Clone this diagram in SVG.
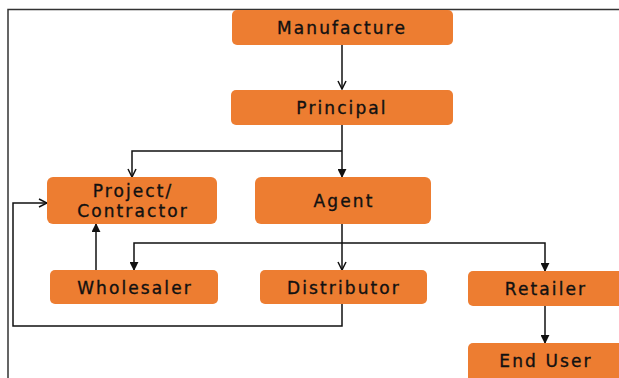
<svg xmlns="http://www.w3.org/2000/svg" width="619" height="378" viewBox="0 0 619 378">
<style>
.box{fill:#ED7D31;}
.lbl{font-family:"DejaVu Sans","Open Sans",sans-serif;font-size:17px;fill:#111;text-anchor:middle;letter-spacing:2.1px;stroke:#111;stroke-width:0.35px;}
.ln{fill:none;stroke:#111;stroke-width:1.5;}
.frame{fill:none;stroke:#333;stroke-width:1.5;}
</style>
<defs>
<marker id="open" viewBox="0 0 10 10" refX="9" refY="5" markerWidth="10" markerHeight="10" markerUnits="userSpaceOnUse" orient="auto">
<path d="M1,1 L9,5 L1,9" fill="none" stroke="#111" stroke-width="1.5"/>
</marker>
<marker id="fill" viewBox="0 0 10 10" refX="9" refY="5" markerWidth="9" markerHeight="9" markerUnits="userSpaceOnUse" orient="auto">
<path d="M0,0 L10,5 L0,10 Z" fill="#111"/>
</marker>
</defs>
<rect width="619" height="378" fill="#fff"/>
<path class="frame" d="M8,378 V9.5 H619"/>
<g id="connectors">
<path class="ln" d="M342,45 V89" marker-end="url(#open)"/>
<path class="ln" d="M342,125 V177" marker-end="url(#fill)"/>
<path class="ln" d="M342,151 H132 V177" marker-end="url(#open)"/>
<path class="ln" d="M342,224 V270" marker-end="url(#open)"/>
<path class="ln" d="M342,243 H134 V270" marker-end="url(#fill)"/>
<path class="ln" d="M342,243 H545 V271" marker-end="url(#fill)"/>
<path class="ln" d="M96,270 V224" marker-end="url(#fill)"/>
<path class="ln" d="M342,304 V326 H13 V203 H47" marker-end="url(#open)"/>
<path class="ln" d="M545,306 V343" marker-end="url(#fill)"/>
</g>
<g id="manufacture"><rect class="box" x="232" y="10" width="221" height="35" rx="5"/><text class="lbl" x="342" y="33.5">Manufacture</text></g>
<g id="principal"><rect class="box" x="231" y="90" width="222" height="35" rx="5"/><text class="lbl" x="342" y="113.5">Principal</text></g>
<g id="project"><rect class="box" x="47" y="177" width="170" height="47" rx="6"/><text class="lbl" x="133" y="196.5">Project/</text><text class="lbl" x="133" y="216.5">Contractor</text></g>
<g id="agent"><rect class="box" x="255" y="177" width="176" height="47" rx="6"/><text class="lbl" x="344" y="207">Agent</text></g>
<g id="wholesaler"><rect class="box" x="50" y="270" width="168" height="34" rx="5"/><text class="lbl" x="135" y="293.5">Wholesaler</text></g>
<g id="distributor"><rect class="box" x="260" y="270" width="167" height="34" rx="5"/><text class="lbl" x="344" y="293.5">Distributor</text></g>
<g id="retailer"><rect class="box" x="468" y="271" width="160" height="35" rx="5"/><text class="lbl" x="546" y="294.5">Retailer</text></g>
<g id="enduser"><rect class="box" x="468" y="343" width="160" height="45" rx="5"/><text class="lbl" x="546" y="367">End User</text></g>
</svg>
